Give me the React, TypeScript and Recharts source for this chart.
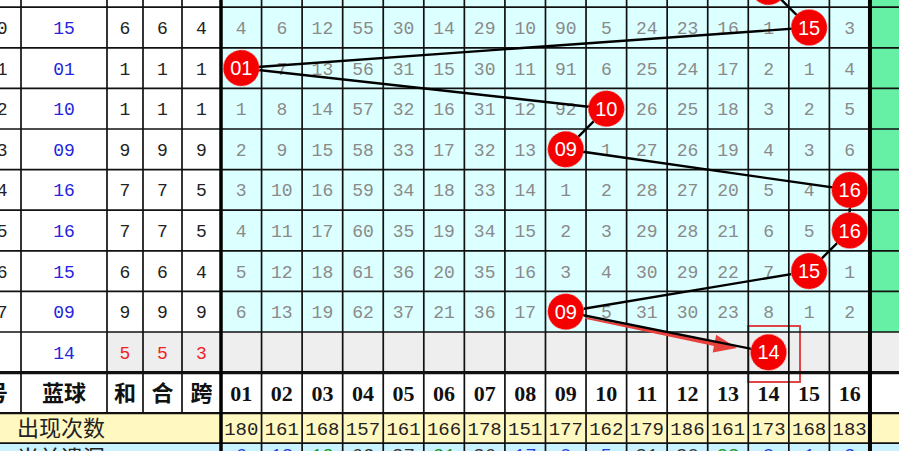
import React from "react";
import { ComposedChart, XAxis, YAxis, Scatter, ReferenceArea, ReferenceLine } from "recharts";

const numbers = ["01", "02", "03", "04", "05", "06", "07", "08", "09", "10", "11", "12", "13", "14", "15", "16"];
const issues = ["0", "1", "2", "3", "4", "5", "6", "7", ""];
const blueBalls = [15, 1, 10, 9, 16, 16, 15, 9, 14]; // last one is the forecast row
const sums = [6, 1, 1, 9, 7, 7, 6, 9, 5];
const roots = [6, 1, 1, 9, 7, 7, 6, 9, 5];
const spans = [4, 1, 1, 9, 5, 5, 4, 9, 3];
const prevBall = 14;
const omissions = [
  [4, 6, 12, 55, 30, 14, 29, 10, 90, 5, 24, 23, 16, 1, 0, 3],
  [0, 7, 13, 56, 31, 15, 30, 11, 91, 6, 25, 24, 17, 2, 1, 4],
  [1, 8, 14, 57, 32, 16, 31, 12, 92, 0, 26, 25, 18, 3, 2, 5],
  [2, 9, 15, 58, 33, 17, 32, 13, 0, 1, 27, 26, 19, 4, 3, 6],
  [3, 10, 16, 59, 34, 18, 33, 14, 1, 2, 28, 27, 20, 5, 4, 0],
  [4, 11, 17, 60, 35, 19, 34, 15, 2, 3, 29, 28, 21, 6, 5, 0],
  [5, 12, 18, 61, 36, 20, 35, 16, 3, 4, 30, 29, 22, 7, 0, 1],
  [6, 13, 19, 62, 37, 21, 36, 17, 0, 5, 31, 30, 23, 8, 1, 2],
];
const counts = [180, 161, 168, 157, 161, 166, 178, 151, 177, 162, 179, 186, 161, 173, 168, 183];
const current = [6, 13, 19, 62, 37, 21, 36, 17, 0, 5, 31, 30, 23, 8, 1, 2];

// layout: one x unit = one number column, one y unit = one draw row
const W = 899;
const H = 451;
const UNIT = 40.56;
const ROW = 40.6;
const X0 = 0.5 - 221 / UNIT;
const X1 = X0 + W / UNIT;
const Y0 = -27.5 / ROW;
const Y1 = Y0 + H / ROW;
const cx = (px: number) => X0 + px / UNIT;

const ISSUE_X = cx(7.5);
const BLUE_X = cx(64);
const SUM_X = cx(125);
const ROOT_X = cx(162.5);
const SPAN_X = cx(201.5);
const leftEdges = [cx(21), cx(107), cx(143), cx(182)];
const HEAD_Y = 9;
const COUNT_TOP = 9.5;
const COUNT_BOTTOM = 9.5 + 30 / ROW;
const COUNT_Y = (COUNT_TOP + COUNT_BOTTOM) / 2;
const CUR_Y = COUNT_BOTTOM + 15 / ROW;
const CUR_NUM_Y = COUNT_BOTTOM + 11 / ROW;

const MONO = "'Liberation Mono', 'DejaVu Sans Mono', monospace";
const CJK = "'Noto Sans CJK SC', sans-serif";

const textShape =
  (style: { size: number; color: string; family: string; weight?: number; anchor?: string }) =>
  (p: any) => {
    const fill = p.payload.color || style.color;
    return (
      <text
        x={p.cx}
        y={p.cy + style.size * 0.36}
        textAnchor={style.anchor || "middle"}
        fontSize={style.size}
        fontFamily={style.family}
        fontWeight={style.weight || 400}
        fill={fill}
      >
        {p.payload.label}
      </text>
    );
  };

const ballShape = (p: any) => (
  <g>
    <circle cx={p.cx} cy={p.cy} r={18} fill="#f50000" stroke="#ff8080" strokeWidth={1} strokeDasharray="2 2" />
    <text x={p.cx} y={p.cy + 7} textAnchor="middle" fontSize={20} fontFamily="'Liberation Sans', Arial, sans-serif" fill="#fff">
      {p.payload.label}
    </text>
  </g>
);

const arrowShape = (p: any) => {
  const { x1, y1, x2, y2 } = p;
  const dx = x2 - x1;
  const dy = y2 - y1;
  const len = Math.hypot(dx, dy) || 1;
  const ux = dx / len;
  const uy = dy / len;
  const nx = -uy;
  const ny = ux;
  const bx = x2 - ux * 23;
  const by = y2 - uy * 23;
  const pts = [
    [x1 + nx * 0.8, y1 + ny * 0.8],
    [bx + nx * 2.6, by + ny * 2.6],
    [bx + nx * 9, by + ny * 9],
    [x2, y2],
    [bx - nx * 9, by - ny * 9],
    [bx - nx * 2.6, by - ny * 2.6],
    [x1 - nx * 0.8, y1 - ny * 0.8],
  ];
  return <polygon points={pts.map((q) => q.join(",")).join(" ")} fill="#e8403c" />;
};

const nothing = () => <g />;

export default function App() {
  const cellTexts: any[] = [];
  omissions.forEach((row, r) =>
    row.forEach((v, c) => {
      if (v > 0) cellTexts.push({ x: c + 1, y: r, label: String(v) });
    })
  );
  const balls = [
    { x: prevBall, y: -1, label: String(prevBall).padStart(2, "0") },
    ...blueBalls.map((b, r) => ({ x: b, y: r, label: String(b).padStart(2, "0") })),
  ];
  const blueTexts = blueBalls.map((b, r) => ({ x: BLUE_X, y: r, label: String(b).padStart(2, "0") }));
  const lastRow = blueBalls.length - 1;
  const statTexts = [
    ...sums.map((v, r) => ({ x: SUM_X, y: r, label: String(v), color: r === lastRow ? "#ee2222" : undefined })),
    ...roots.map((v, r) => ({ x: ROOT_X, y: r, label: String(v), color: r === lastRow ? "#ee2222" : undefined })),
    ...spans.map((v, r) => ({ x: SPAN_X, y: r, label: String(v), color: r === lastRow ? "#ee2222" : undefined })),
  ];
  const issueTexts = issues.map((s, r) => ({ x: ISSUE_X, y: r, label: s }));
  const headNums = numbers.map((n, i) => ({ x: i + 1, y: HEAD_Y, label: n }));
  const headCn = [{ x: cx(8), y: HEAD_Y, label: "期号" }];
  const headCnMid = [
    { x: BLUE_X, y: HEAD_Y, label: "蓝球" },
    { x: SUM_X, y: HEAD_Y, label: "和" },
    { x: ROOT_X, y: HEAD_Y, label: "合" },
    { x: SPAN_X, y: HEAD_Y, label: "跨" },
  ];
  const countTexts = counts.map((v, i) => ({ x: i + 1, y: COUNT_Y, label: String(v) }));
  const curTexts = current.map((v, i) => ({
    x: i + 1,
    y: CUR_NUM_Y,
    label: String(v),
    color: v <= 17 ? "#2a3ee0" : v <= 25 ? "#1a9a30" : "#333",
  }));
  const rowLabels = [
    { x: cx(17), y: COUNT_Y, label: "出现次数" },
    { x: cx(17), y: CUR_Y, label: "当前遗漏" },
  ];

  const hLines: number[] = [];
  for (let r = -1; r <= 9; r++) hLines.push(r + 0.5);
  const vLines: number[] = [];
  for (let c = 1; c <= 15; c++) vLines.push(c + 0.5);

  const hWidth = (y: number) => (y === 8.5 ? 3.2 : y === 9.5 ? 2.2 : 1.7);

  return (
    <div style={{ position: "fixed", left: 0, top: 0, width: W, height: H, background: "#fff" }}>
      <ComposedChart width={W} height={H} margin={{ top: 0, right: 0, bottom: 0, left: 0 }}>
        <XAxis type="number" dataKey="x" domain={[X0, X1]} hide allowDataOverflow />
        <YAxis type="number" dataKey="y" domain={[Y0, Y1]} reversed hide allowDataOverflow />

        {/* backgrounds */}
        <ReferenceArea x1={0.5} x2={16.5} y1={Y0} y2={7.5} fill="#dcffff" fillOpacity={1} ifOverflow="visible" />
        <ReferenceArea x1={16.5} x2={X1} y1={Y0} y2={7.5} fill="#66f0a6" fillOpacity={1} ifOverflow="visible" />
        <ReferenceArea x1={leftEdges[1]} x2={X1} y1={7.5} y2={8.5} fill="#eeeeee" fillOpacity={1} ifOverflow="visible" />
        <ReferenceArea x1={X0} x2={X1} y1={COUNT_TOP} y2={COUNT_BOTTOM} fill="#fff8c0" fillOpacity={1} ifOverflow="visible" />
        <ReferenceArea x1={X0} x2={X1} y1={COUNT_BOTTOM} y2={Y1} fill="#c8f2ff" fillOpacity={1} ifOverflow="visible" />

        {/* grid */}
        {hLines.map((y) => (
          <ReferenceLine key={"h" + y} y={y} stroke="#111" strokeWidth={hWidth(y)} ifOverflow="visible" />
        ))}
        <ReferenceLine y={COUNT_BOTTOM} stroke="#111" strokeWidth={1.7} ifOverflow="visible" />
        {vLines.map((x) => (
          <ReferenceLine key={"v" + x} x={x} stroke="#111" strokeWidth={1.7} ifOverflow="visible" />
        ))}
        {leftEdges.map((x) => (
          <ReferenceLine
            key={"l" + x}
            segment={[{ x, y: Y0 }, { x, y: COUNT_TOP }]}
            stroke="#111"
            strokeWidth={1.7}
            ifOverflow="visible"
          />
        ))}
        <ReferenceLine x={0.5} stroke="#000" strokeWidth={3.5} ifOverflow="visible" />
        <ReferenceLine x={16.5} stroke="#000" strokeWidth={4} ifOverflow="visible" />

        {/* texts */}
        <Scatter data={cellTexts} shape={textShape({ size: 18, color: "#8a8a8a", family: MONO })} isAnimationActive={false} />
        <Scatter data={issueTexts} shape={textShape({ size: 18, color: "#222", family: MONO, anchor: "end" })} isAnimationActive={false} />
        <Scatter data={blueTexts} shape={textShape({ size: 18, color: "#2424dc", family: MONO })} isAnimationActive={false} />
        <Scatter data={statTexts} shape={textShape({ size: 18, color: "#222", family: MONO })} isAnimationActive={false} />
        <Scatter data={headNums} shape={textShape({ size: 22, color: "#111", family: "'Liberation Serif', serif", weight: 700 })} isAnimationActive={false} />
        <Scatter data={headCn} shape={textShape({ size: 22, color: "#111", family: CJK, weight: 700, anchor: "end" })} isAnimationActive={false} />
        <Scatter data={headCnMid} shape={textShape({ size: 22, color: "#111", family: CJK, weight: 700 })} isAnimationActive={false} />
        <Scatter data={countTexts} shape={textShape({ size: 19, color: "#222", family: MONO })} isAnimationActive={false} />
        <Scatter data={curTexts} shape={textShape({ size: 19, color: "#333", family: MONO })} isAnimationActive={false} />
        <Scatter data={rowLabels} shape={textShape({ size: 22, color: "#222", family: CJK, anchor: "start" })} isAnimationActive={false} />

        {/* trend line and balls */}
        <Scatter data={balls} shape={nothing} line={{ stroke: "#000", strokeWidth: 2.4 }} lineJointType="linear" isAnimationActive={false} />
        <Scatter data={balls} shape={ballShape} isAnimationActive={false} />

        {/* annotation */}
        <ReferenceLine
          segment={[{ x: cx(585), y: (318 - 27.5) / ROW }, { x: cx(737), y: (348 - 27.5) / ROW }]}
          shape={arrowShape}
          ifOverflow="visible"
        />
        <ReferenceArea
          x1={13.5}
          x2={cx(800)}
          y1={(326 - 27.5) / ROW}
          y2={(382 - 27.5) / ROW}
          fill="none"
          stroke="#e04444"
          strokeWidth={2}
          ifOverflow="visible"
        />
      </ComposedChart>
    </div>
  );
}
